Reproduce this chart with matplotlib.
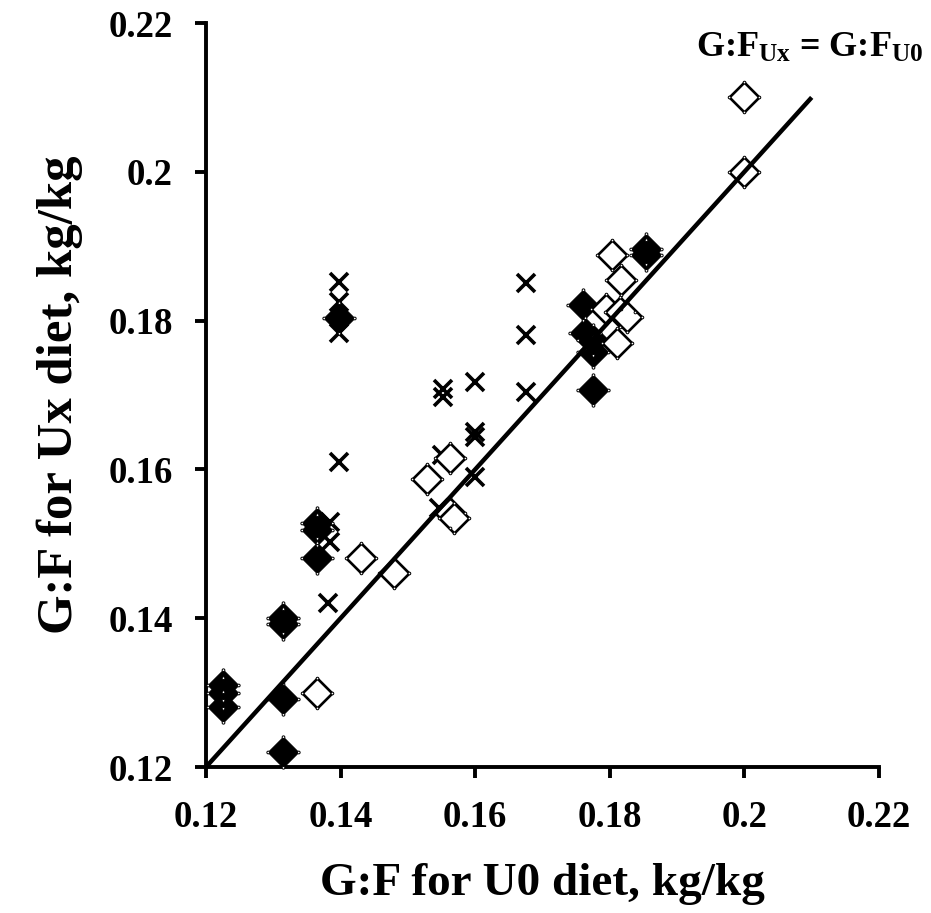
import matplotlib
matplotlib.use("Agg")
import matplotlib.pyplot as plt
from matplotlib.path import Path

plt.rcParams['font.family'] = ['Liberation Serif', 'DejaVu Serif']
plt.rcParams['font.weight'] = 'bold'
plt.rcParams['mathtext.fontset'] = 'custom'
plt.rcParams['mathtext.rm'] = 'Liberation Serif:bold'
plt.rcParams['mathtext.bf'] = 'Liberation Serif:bold'
plt.rcParams['mathtext.it'] = 'Liberation Serif:bold'

# G:F (kg/kg) on the U0 diet (x) and on the Ux diet (y)
filled_u0 = [0.1225, 0.1225, 0.1225, 0.1315, 0.1315, 0.1315, 0.1315,
             0.1365, 0.1365, 0.1365, 0.1398, 0.1854, 0.1854,
             0.1760, 0.1763, 0.1775, 0.1775, 0.1775]
filled_ux = [0.1310, 0.1300, 0.1281, 0.1400, 0.1392, 0.1292, 0.1220,
             0.1528, 0.1519, 0.1481, 0.1803, 0.1888, 0.1896,
             0.1821, 0.1783, 0.1774, 0.1758, 0.1707]

open_u0 = [0.2000, 0.2000, 0.1803, 0.1817, 0.1795, 0.1815, 0.1825, 0.1810,
           0.1365, 0.1430, 0.1479, 0.1528, 0.1563, 0.1562, 0.1568]
open_ux = [0.2100, 0.2000, 0.1888, 0.1855, 0.1815, 0.1812, 0.1805, 0.1770,
           0.1299, 0.1481, 0.1461, 0.1587, 0.1615, 0.1541, 0.1535]

cross_u0 = [0.1398, 0.1398, 0.1398, 0.1398, 0.1382, 0.1384, 0.1384,
            0.1552, 0.1552, 0.1550, 0.1546, 0.1600, 0.1600, 0.1600, 0.1600,
            0.1675, 0.1675, 0.1675]
cross_ux = [0.1852, 0.1825, 0.1783, 0.1610, 0.1420, 0.1529, 0.1502,
            0.1708, 0.1697, 0.1620, 0.1548, 0.1717, 0.1650, 0.1643, 0.1590,
            0.1851, 0.1781, 0.1704]

unity = [0.12, 0.21]
ticks = [0.12, 0.14, 0.16, 0.18, 0.20, 0.22]
tick_labels = ['0.12', '0.14', '0.16', '0.18', '0.2', '0.22']

# diamond whose tip-to-tip extent equals the marker size
diamond = Path([(0, 1), (1, 0), (0, -1), (-1, 0), (0, 1)],
               [Path.MOVETO, Path.LINETO, Path.LINETO, Path.LINETO,
                Path.CLOSEPOLY])
# small rings sitting on the four tips of the diamond
RING_R = 0.09
tip_rings = Path.make_compound_path(
    *[Path.circle(c, RING_R) for c in [(0, 1), (1, 0), (0, -1), (-1, 0)]])


def diamonds(ax, xs, ys, size, face, edge_width, z):
    ax.plot(xs, ys, linestyle='none', marker=diamond, markersize=size,
            markerfacecolor=face, markeredgecolor='black',
            markeredgewidth=edge_width, zorder=z, clip_on=False)
    ax.plot(xs, ys, linestyle='none', marker=tip_rings,
            markersize=size * (1 + RING_R), markerfacecolor='white',
            markeredgecolor='black', markeredgewidth=0.7, zorder=z + 0.1,
            clip_on=False)


fig = plt.figure(figsize=(9.31, 9.13), dpi=100)
ax = fig.add_axes([206 / 931, 1 - 767 / 913, 673 / 931, 744 / 913])

ax.plot(cross_u0, cross_ux, linestyle='none', marker='x', markersize=13.5,
        markeredgewidth=2.6, color='black', zorder=3, clip_on=False)
diamonds(ax, filled_u0, filled_ux, 22, 'black', 0.8, 4)
diamonds(ax, open_u0, open_ux, 21.5, 'white', 1.9, 5)
ax.plot(unity, unity, color='black', linewidth=3.2, solid_capstyle='butt',
        zorder=6)

ax.set_xlim(0.12, 0.22)
ax.set_ylim(0.12, 0.22)
ax.set_xticks(ticks)
ax.set_yticks(ticks)
ax.set_xticklabels(tick_labels)
ax.set_yticklabels(tick_labels)
ax.tick_params(axis='both', direction='out', length=8, width=2.8,
               labelsize=26.5, pad=16)
for lbl in ax.get_xticklabels() + ax.get_yticklabels():
    lbl.set_fontweight('bold')

for side in ('top', 'right'):
    ax.spines[side].set_visible(False)
for side in ('left', 'bottom'):
    ax.spines[side].set_linewidth(2.8)

ax.set_xlabel('G:F for U0 diet, kg/kg', fontsize=34, fontweight='bold',
              labelpad=20)
ax.set_ylabel('G:F for Ux diet, kg/kg', fontsize=36.5, fontweight='bold',
              labelpad=18)

ax.text(0.2097, 0.2166, r'G:F$_{\mathrm{Ux}}$ = G:F$_{\mathrm{U0}}$',
        fontsize=26, fontweight='bold', ha='center', va='center')

fig.savefig('out.png', dpi=100, facecolor='white')
